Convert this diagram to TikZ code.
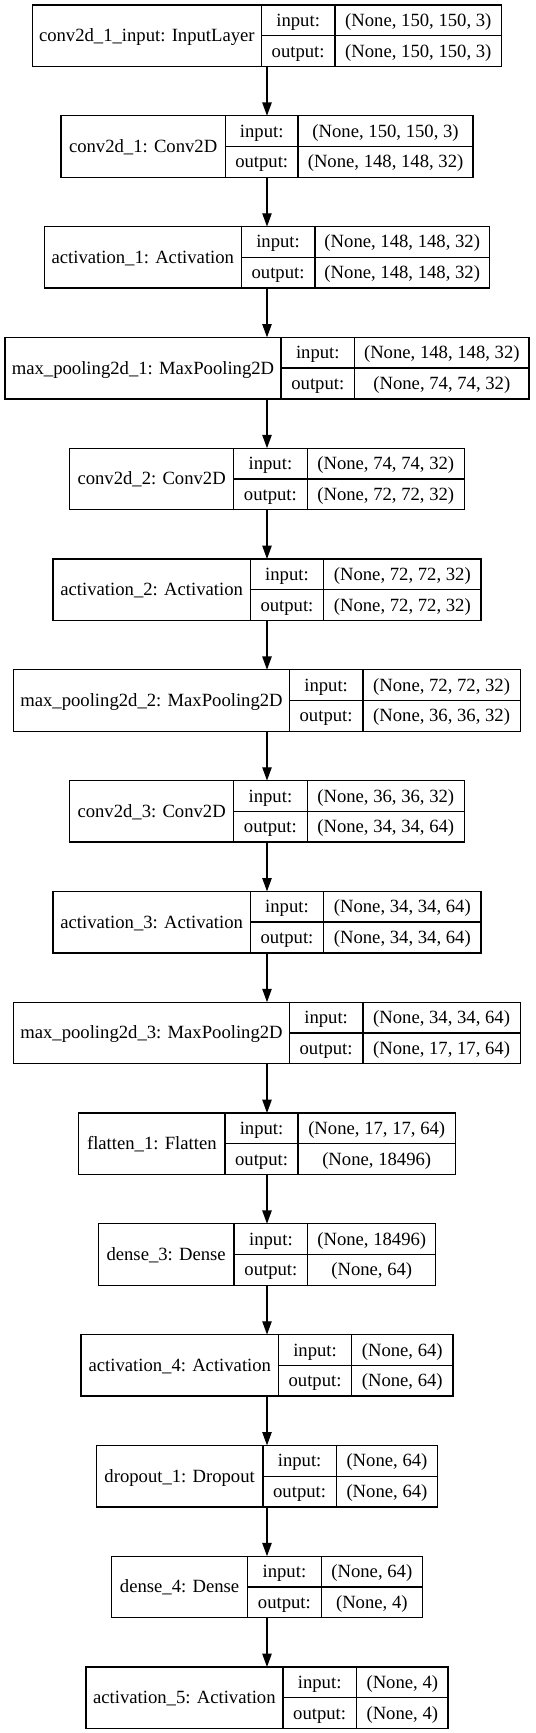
\documentclass[tikz,border=0pt]{standalone}
\usepackage{fontspec}
\setmainfont{Liberation Serif}
\newfontfamily\layerfont{Liberation Serif}
\usetikzlibrary{arrows.meta}
\tikzset{
  layerbox/.style={draw=black, line width=1pt, inner sep=0pt, outer sep=0pt, minimum height=46.125pt},
  cell/.style={inner sep=0pt, anchor=base, font=\layerfont\fontsize{14pt}{16pt}\selectfont},
  divider/.style={draw=black, line width=1pt},
  flow/.style={draw=black, line width=1pt, -{Triangle[length=10pt,width=7pt]}}
}
\newcommand\kerasLayer[7]{%
  \pgfmathsetmacro\ytop{5+(#1-1)*110.8}
  \pgfmathsetmacro\ybot{\ytop+61.5}
  \pgfmathsetmacro\yc{\ytop+30.75}
  \pgfmathsetmacro\xl{267-#5/2}
  \pgfmathsetmacro\xr{267+#5/2}
  \pgfmathsetmacro\xa{\xl+#6}
  \pgfmathsetmacro\xb{\xl+#7}
  \node[layerbox, minimum width=#5*0.75pt] (b#1) at (267,\yc) {};
  \draw[divider] (\xa,\ytop) -- (\xa,\ybot);
  \draw[divider] (\xb,\ytop) -- (\xb,\ybot);
  \draw[divider] (\xa,\yc) -- (\xr,\yc);
  \node[cell] (n#1) at ({(\xl+\xa)/2},{\yc+6}) {#2};
  \node[cell] (il#1) at ({(\xa+\xb)/2},{\ytop+15.4+6}) {input:};
  \node[cell] (ol#1) at ({(\xa+\xb)/2},{\yc+15.4+6}) {output:};
  \node[cell] (iv#1) at ({(\xb+\xr)/2},{\ytop+15.4+6}) {#3};
  \node[cell] (ov#1) at ({(\xb+\xr)/2},{\yc+15.4+6}) {#4};
}
\begin{document}
\begin{tikzpicture}[x=0.75pt, y=-0.75pt]
  \useasboundingbox[fill=white] (0,0) rectangle (535,1733);
  \kerasLayer{1}{conv2d\_1\_input: InputLayer}{(None, 150, 150, 3)}{(None, 150, 150, 3)}{469.3}{229.0}{302.6}
  \kerasLayer{2}{conv2d\_1: Conv2D}{(None, 150, 150, 3)}{(None, 148, 148, 32)}{411.9}{164.2}{237.1}
  \kerasLayer{3}{activation\_1: Activation}{(None, 148, 148, 32)}{(None, 148, 148, 32)}{445.3}{196.9}{270.5}
  \kerasLayer{4}{max\_pooling2d\_1: MaxPooling2D}{(None, 148, 148, 32)}{(None, 74, 74, 32)}{524}{276}{349.6}
  \kerasLayer{5}{conv2d\_2: Conv2D}{(None, 74, 74, 32)}{(None, 72, 72, 32)}{394.6}{163.9}{237.5}
  \kerasLayer{6}{activation\_2: Activation}{(None, 72, 72, 32)}{(None, 72, 72, 32)}{428}{197.3}{270.6}
  \kerasLayer{7}{max\_pooling2d\_2: MaxPooling2D}{(None, 72, 72, 32)}{(None, 36, 36, 32)}{506.6}{275.6}{349.2}
  \kerasLayer{8}{conv2d\_3: Conv2D}{(None, 36, 36, 32)}{(None, 34, 34, 64)}{394.6}{163.9}{237.5}
  \kerasLayer{9}{activation\_3: Activation}{(None, 34, 34, 64)}{(None, 34, 34, 64)}{428}{197.3}{270.6}
  \kerasLayer{10}{max\_pooling2d\_3: MaxPooling2D}{(None, 34, 34, 64)}{(None, 17, 17, 64)}{506.6}{275.6}{349.2}
  \kerasLayer{11}{flatten\_1: Flatten}{(None, 17, 17, 64)}{(None, 18496)}{376.5}{146.2}{219.4}
  \kerasLayer{12}{dense\_3: Dense}{(None, 18496)}{(None, 64)}{337.6}{135.9}{209.5}
  \kerasLayer{13}{activation\_4: Activation}{(None, 64)}{(None, 64)}{372}{197.6}{270.5}
  \kerasLayer{14}{dropout\_1: Dropout}{(None, 64)}{(None, 64)}{341.1}{166.4}{239.9}
  \kerasLayer{15}{dense\_4: Dense}{(None, 64)}{(None, 4)}{310.8}{136}{209.6}
  \kerasLayer{16}{activation\_5: Activation}{(None, 4)}{(None, 4)}{362.3}{197}{270.6}
  \foreach \i [evaluate=\i as \j using int(\i+1)] in {1,...,15}
    \draw[flow] (b\i.south) -- (b\j.north);
\end{tikzpicture}
\end{document}
